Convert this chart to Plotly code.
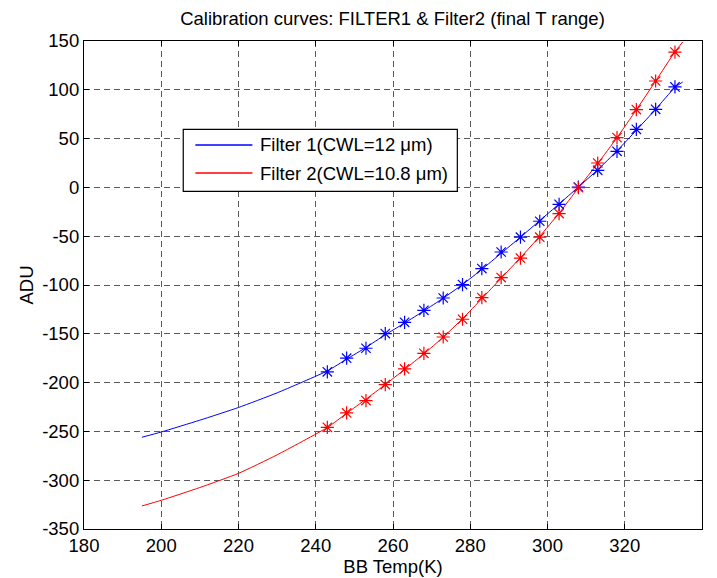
import plotly.graph_objects as go

# Measured points (BB temperature, K) and ADU values
temp_pts = [243, 248, 253, 258, 263, 268, 273, 278, 283, 288,
            293, 298, 303, 308, 313, 318, 323, 328, 333]
adu_f1 = [-189, -175, -164.8, -149.8, -138.2, -125.9, -113.3, -99.6, -83.2, -66.2,
          -51, -34.7, -17.3, 0.4, 17.5, 37, 59.5, 80, 102.9]
adu_f2 = [-245.8, -231.1, -218.4, -202, -186, -170, -153.3, -135.1, -112.9, -92.4,
          -72.5, -51, -26.8, -0.2, 25, 51, 79.7, 109, 138.7]

# Fitted calibration curves
temp_fit = [195, 200, 210, 220, 230, 243, 248, 253, 258, 263, 268, 273, 278, 283, 288,
            293, 298, 303, 308, 313, 318, 323, 328, 333, 335]
fit_f1 = [-256, -250.6, -238.5, -225.5, -210.5, -188, -176, -164, -151, -139, -126.5, -113.5, -99.5, -84, -67.5,
          -51, -34, -17, 0.4, 18, 37.5, 58.5, 80, 102.5, 108]
fit_f2 = [-326.4, -320.6, -307.5, -293, -274, -246, -231.5, -217, -202, -186.5, -170.5, -153.5, -134.5, -114, -93,
          -72, -50, -26.5, -0.5, 24.5, 51, 79.5, 109, 139, 149]

name_f1 = "Filter 1(CWL=12 μm)"
name_f2 = "Filter 2(CWL=10.8 μm)"
title = "Calibration curves: FILTER1 & Filter2 (final T range)"
x_title = "BB Temp(K)"
y_title = "ADU"
x_ticks = [180, 200, 220, 240, 260, 280, 300, 320, 340]
y_ticks = [150, 100, 50, 0, -50, -100, -150, -200, -250, -300, -350]
x_ticklabels = [str(v) for v in x_ticks]
y_ticklabels = [str(v) for v in y_ticks]

BLUE = "rgb(0,0,255)"
RED = "rgb(255,0,0)"
FONT = "Liberation Sans, Arial, sans-serif"
FS = 18.5

fig = go.Figure()
fig.add_trace(go.Scatter(x=temp_fit, y=fit_f1, mode="lines", name=name_f1, showlegend=False,
                         line=dict(color=BLUE, width=1, shape="spline", smoothing=0.5)))
fig.add_trace(go.Scatter(x=temp_fit, y=fit_f2, mode="lines", name=name_f2, showlegend=False,
                         line=dict(color=RED, width=1, shape="spline", smoothing=0.5)))
fig.add_trace(go.Scatter(x=temp_pts, y=adu_f1, mode="markers", showlegend=False,
                         marker=dict(symbol="asterisk-open", size=11, color=BLUE,
                                     line=dict(color=BLUE, width=1.2))))
fig.add_trace(go.Scatter(x=temp_pts, y=adu_f2, mode="markers", showlegend=False,
                         marker=dict(symbol="asterisk-open", size=11, color=RED,
                                     line=dict(color=RED, width=1.2))))

axis_common = dict(
    showline=True, linecolor="black", linewidth=1.2, mirror="ticks",
    ticks="inside", ticklen=5, tickcolor="black", tickwidth=1,
    showgrid=True, gridcolor="rgb(90,90,90)", gridwidth=1, griddash="6px,4px",
    zeroline=False, automargin=False,
    tickfont=dict(family=FONT, size=FS, color="black"),
)

fig.update_xaxes(range=[180, 340], tickvals=x_ticks, ticktext=x_ticklabels,
                 title=dict(text=x_title, font=dict(family=FONT, size=FS, color="black"), standoff=3),
                 ticklabelstandoff=0, **axis_common)
fig.update_yaxes(range=[-350, 150], tickvals=y_ticks, ticktext=y_ticklabels,
                 title=dict(text=y_title, font=dict(family=FONT, size=FS, color="black"), standoff=3),
                 ticklabelstandoff=0, **axis_common)

# Legend drawn as a boxed key (MATLAB style) in plot-area coordinates
legend_box = dict(x0=0.1606, x1=0.6041, y0=0.6920, y1=0.8191)
legend_rows = [(name_f1, BLUE, 0.7869), (name_f2, RED, 0.7295)]
fig.add_shape(type="rect", xref="paper", yref="paper", **legend_box,
              line=dict(color="black", width=1.2), fillcolor="white", layer="above")
for label, color, yy in legend_rows:
    fig.add_shape(type="line", xref="paper", yref="paper", x0=0.1802, x1=0.2725, y0=yy, y1=yy,
                  line=dict(color=color, width=1.3), layer="above")
    fig.add_annotation(xref="paper", yref="paper", x=0.2816, y=yy, xanchor="left", yanchor="middle",
                       text=label, showarrow=False, font=dict(family=FONT, size=FS, color="black"))

fig.update_layout(
    width=709, height=570,
    margin=dict(l=76, r=15, t=33, b=49, pad=0),
    paper_bgcolor="white", plot_bgcolor="white",
    title=dict(text=title, x=0.5423, xanchor="center", y=0.982, yanchor="middle",
               font=dict(family=FONT, size=FS, color="black")),
    showlegend=False,
)

fig.write_html("out.html")
